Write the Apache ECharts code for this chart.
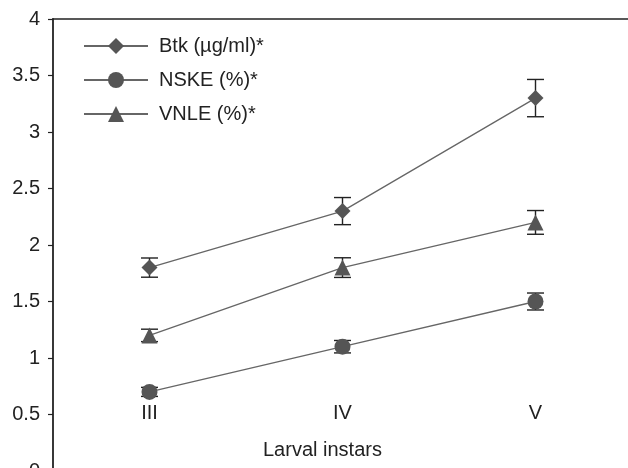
<!DOCTYPE html>
<html>
<head>
<meta charset="utf-8">
<script src="https://cdn.jsdelivr.net/npm/echarts@6/dist/echarts.min.js"></script>
<style>html,body{margin:0;padding:0;background:#fff}#c{width:628px;height:468px}</style>
</head>
<body>
<div id="c"></div>
<script>
var categories = ['III', 'IV', 'V'];
var btk = [1.8, 2.3, 3.3];
var btkErr = [0.085, 0.12, 0.165];
var nske = [0.7, 1.1, 1.5];
var nskeErr = [0.04, 0.055, 0.075];
var vnle = [1.2, 1.8, 2.2];
var vnleErr = [0.055, 0.087, 0.105];
var seriesNames = ['Btk (µg/ml)*', 'NSKE (%)*', 'VNLE (%)*'];
var xTitle = 'Larval instars';

var FONT = 'Liberation Sans, Arial, sans-serif';
var TXT = '#222';
var FS = 20;

function errData(vals, errs) {
  return vals.map(function (v, i) { return [i, v - errs[i], v + errs[i]]; });
}
function errSeries(vals, errs) {
  return {
    type: 'custom',
    silent: true,
    z: 1,
    data: errData(vals, errs),
    renderItem: function (params, api) {
      var lo = api.coord([api.value(0), api.value(1)]);
      var hi = api.coord([api.value(0), api.value(2)]);
      var hw = 8.5;
      var st = { stroke: '#222', lineWidth: 1.4 };
      return {
        type: 'group',
        children: [
          { type: 'line', shape: { x1: lo[0], y1: lo[1], x2: hi[0], y2: hi[1] }, style: st },
          { type: 'line', shape: { x1: lo[0] - hw, y1: lo[1], x2: lo[0] + hw, y2: lo[1] }, style: st },
          { type: 'line', shape: { x1: hi[0] - hw, y1: hi[1], x2: hi[0] + hw, y2: hi[1] }, style: st }
        ]
      };
    }
  };
}
function lineSeries(name, vals, sym) {
  return {
    name: name,
    type: 'line',
    z: 3,
    data: vals,
    symbol: sym,
    symbolSize: 16,
    showAllSymbol: true,
    lineStyle: { color: '#666', width: 1.3 },
    itemStyle: { color: '#555', borderWidth: 0 },
    emphasis: { disabled: true }
  };
}

var chart = echarts.init(document.getElementById('c'), null, { renderer: 'canvas' });
chart.setOption({
  animation: false,
  backgroundColor: '#fff',
  textStyle: { fontFamily: FONT },
  grid: { left: 53, right: -4, top: 19, bottom: -3, containLabel: false, outerBoundsMode: 'none' },
  legend: {
    data: seriesNames,
    orient: 'vertical',
    left: 78,
    top: 31,
    itemWidth: 64,
    itemHeight: 20,
    itemGap: 14,
    textStyle: { fontSize: FS, color: TXT, fontFamily: FONT, padding: [0, 0, 0, 6] }
  },
  graphic: [{
    type: 'text',
    left: 263,
    top: 440,
    style: { text: xTitle, fontSize: FS, fill: TXT, fontFamily: FONT }
  }],
  xAxis: [{
    type: 'category',
    data: categories,
    boundaryGap: true,
    position: 'bottom',
    axisLine: { show: false },
    axisTick: { show: false },
    axisLabel: { margin: -68, fontSize: FS, color: TXT, fontFamily: FONT }
  }, {
    type: 'category',
    data: categories,
    position: 'top',
    axisLine: { show: true, lineStyle: { color: '#222', width: 1.5 } },
    axisTick: { show: false },
    axisLabel: { show: false }
  }],
  yAxis: {
    type: 'value',
    min: 0,
    max: 4,
    interval: 0.5,
    splitLine: { show: false },
    axisLine: { show: true, lineStyle: { color: '#222', width: 1.8 } },
    axisTick: { show: true, length: 5, lineStyle: { color: '#222', width: 1.2 } },
    axisLabel: { margin: 13, fontSize: FS, color: TXT, fontFamily: FONT }
  },
  series: [
    errSeries(btk, btkErr),
    errSeries(nske, nskeErr),
    errSeries(vnle, vnleErr),
    lineSeries(seriesNames[0], btk, 'diamond'),
    lineSeries(seriesNames[1], nske, 'circle'),
    lineSeries(seriesNames[2], vnle, 'triangle')
  ]
});
</script>
</body>
</html>
